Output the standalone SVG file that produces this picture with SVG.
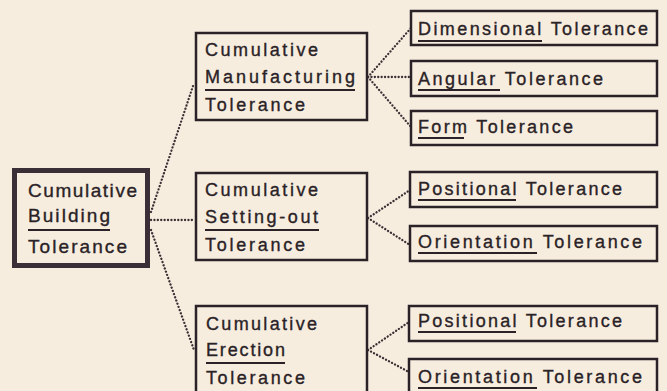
<svg xmlns="http://www.w3.org/2000/svg" width="667" height="391" viewBox="0 0 667 391">
<style>
.bg{fill:#f6eddf}
.box{fill:#f6eddf;stroke:#2a2226;stroke-width:2.5}
.root{fill:#f6eddf;stroke:#3b2f37;stroke-width:5}
text{font-family:"Liberation Sans","DejaVu Sans",sans-serif;fill:#2a2226;stroke:#2a2226;stroke-width:0.35}
.t18{font-size:19px}
.t17{font-size:18px}
.ul{stroke:#2a2226;stroke-width:2.2}
.con{fill:none;stroke:#3a3034;stroke-width:2.3;stroke-dasharray:0.1 3.3;stroke-linecap:round}
</style>
<rect class="bg" x="0" y="0" width="667" height="391"/>
<g id="connectors">
<path class="con" d="M151 212 L194 83"/>
<path class="con" d="M151 220 L194 220"/>
<path class="con" d="M151 230 L194 350"/>
<path class="con" d="M368 77 L411 28"/>
<path class="con" d="M368 77 L411 77"/>
<path class="con" d="M368 77 L411 127"/>
<path class="con" d="M368 218 L410 190"/>
<path class="con" d="M368 218 L410 245"/>
<path class="con" d="M368 350 L409 322"/>
<path class="con" d="M368 350 L409 372"/>
</g>
<g id="root">
<rect class="root" x="14.5" y="170.5" width="133" height="95"/>
<text class="t18" x="28" y="197" textLength="109" lengthAdjust="spacing">Cumulative</text>
<text class="t18" x="28" y="222" textLength="82" lengthAdjust="spacing">Building</text>
<line class="ul" x1="28" y1="230" x2="110" y2="230"/>
<text class="t18" x="28" y="253" textLength="99" lengthAdjust="spacing">Tolerance</text>
</g>
<g id="manufacturing">
<rect class="box" x="196" y="33" width="171" height="87"/>
<text class="t17" x="205" y="56" textLength="113" lengthAdjust="spacing">Cumulative</text>
<text class="t17" x="205" y="83" textLength="150" lengthAdjust="spacing">Manufacturing</text>
<line class="ul" x1="205" y1="90" x2="355" y2="90"/>
<text class="t17" x="205" y="111" textLength="100" lengthAdjust="spacing">Tolerance</text>
</g>
<g id="settingout">
<rect class="box" x="196" y="173" width="171" height="87"/>
<text class="t17" x="205" y="196" textLength="113" lengthAdjust="spacing">Cumulative</text>
<text class="t17" x="205" y="223" textLength="113" lengthAdjust="spacing">Setting-out</text>
<line class="ul" x1="205" y1="230" x2="319" y2="230"/>
<text class="t17" x="205" y="251" textLength="100" lengthAdjust="spacing">Tolerance</text>
</g>
<g id="erection">
<rect class="box" x="196" y="306" width="171" height="100"/>
<text class="t17" x="206" y="330" textLength="111" lengthAdjust="spacing">Cumulative</text>
<text class="t17" x="206" y="356" textLength="79" lengthAdjust="spacing">Erection</text>
<line class="ul" x1="206" y1="363" x2="285" y2="363"/>
<text class="t17" x="206" y="384" textLength="99" lengthAdjust="spacing">Tolerance</text>
</g>
<g id="dimensional">
<rect class="box" x="411" y="11" width="246" height="34"/>
<text class="t17" x="418" y="35" textLength="230" lengthAdjust="spacing">Dimensional Tolerance</text>
<line class="ul" x1="418" y1="41" x2="542" y2="41"/>
</g>
<g id="angular">
<rect class="box" x="411" y="61" width="246" height="35"/>
<text class="t17" x="418" y="85" textLength="185" lengthAdjust="spacing">Angular Tolerance</text>
<line class="ul" x1="418" y1="90" x2="500" y2="90"/>
</g>
<g id="form">
<rect class="box" x="411" y="111" width="246" height="34"/>
<text class="t17" x="418" y="133" textLength="155" lengthAdjust="spacing">Form Tolerance</text>
<line class="ul" x1="418" y1="138" x2="464" y2="138"/>
</g>
<g id="positional1">
<rect class="box" x="410" y="172" width="247" height="35"/>
<text class="t17" x="418" y="195" textLength="204" lengthAdjust="spacing">Positional Tolerance</text>
<line class="ul" x1="418" y1="200" x2="516" y2="200"/>
</g>
<g id="orientation1">
<rect class="box" x="410" y="226" width="247" height="35"/>
<text class="t17" x="418" y="248" textLength="224" lengthAdjust="spacing">Orientation Tolerance</text>
<line class="ul" x1="418" y1="253" x2="537" y2="253"/>
</g>
<g id="positional2">
<rect class="box" x="409" y="306" width="248" height="35"/>
<text class="t17" x="418" y="327" textLength="204" lengthAdjust="spacing">Positional Tolerance</text>
<line class="ul" x1="418" y1="332" x2="516" y2="332"/>
</g>
<g id="orientation2">
<rect class="box" x="409" y="359" width="248" height="45"/>
<text class="t17" x="418" y="383" textLength="224" lengthAdjust="spacing">Orientation Tolerance</text>
<line class="ul" x1="418" y1="388" x2="537" y2="388"/>
</g>
</svg>
